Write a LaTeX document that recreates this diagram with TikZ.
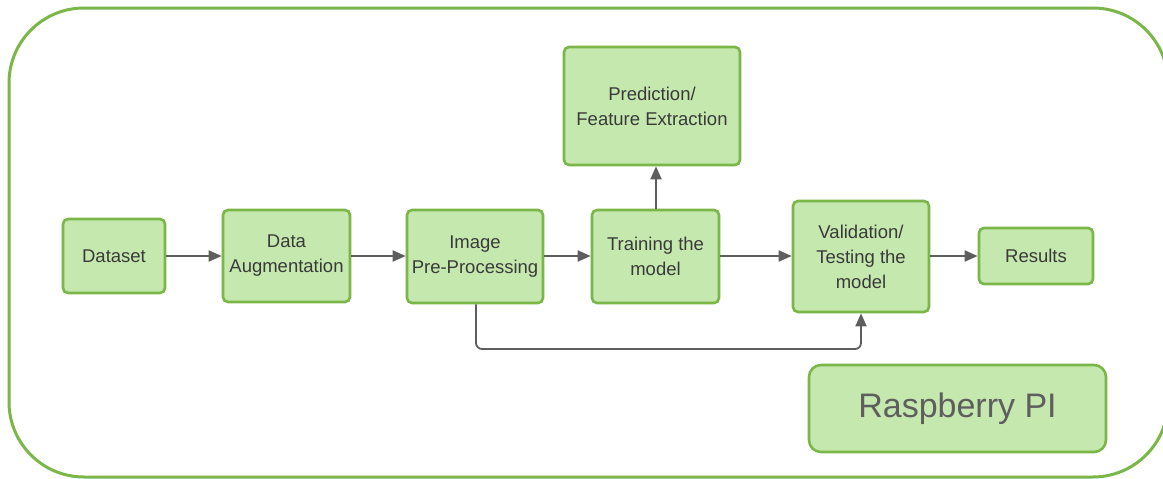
\documentclass[tikz,border=0pt]{standalone}
\usepackage{fontspec}
\setmainfont{Liberation Sans}
\usetikzlibrary{arrows.meta}
\definecolor{boxfill}{HTML}{C5E8AE}
\definecolor{boxline}{HTML}{7AB648}
\definecolor{arrowc}{HTML}{5E5E5E}
\definecolor{txt}{HTML}{3A3A3A}
\tikzset{
  stepbox/.style={draw=boxline, fill=boxfill, line width=2.6pt, rounded corners=5pt,
    align=center, text=txt, font=\fontsize{18.5}{25}\selectfont, inner sep=0pt},
  flow/.style={draw=arrowc, line width=1.8pt, -{Triangle[length=13pt,width=11pt]}}
}
\begin{document}
\begin{tikzpicture}[x=1pt,y=-1pt]
\useasboundingbox (0,0) rectangle (1163,479);
\draw[boxline, line width=3pt, rounded corners=75pt] (9,8) rectangle (1168,477);
\node[stepbox, minimum width=102pt, minimum height=74pt] (ds) at (114,256) {Dataset};
\node[stepbox, minimum width=127pt, minimum height=92pt] (aug) at (286.5,256) {Data\\Augmentation};
\node[stepbox, minimum width=136pt, minimum height=93pt] (pre) at (475,256.5) {Image\\Pre-Processing};
\node[stepbox, minimum width=127pt, minimum height=93pt] (train) at (655.5,256.5) {Training the\\model};
\node[stepbox, minimum width=176pt, minimum height=118pt] (pred) at (652,106) {Prediction/\\Feature Extraction};
\node[stepbox, minimum width=136pt, minimum height=111pt] (val) at (861,256.5) {Validation/\\Testing the\\model};
\node[stepbox, minimum width=114pt, minimum height=56pt] (res) at (1036,256) {Results};
\node[stepbox, minimum width=297pt, minimum height=87pt, rounded corners=12pt, text=arrowc,
      font=\fontsize{34}{40}\selectfont] (rpi) at (957.5,408.5) {Raspberry PI};
\coordinate (ay) at (0,256);
\coordinate (ax) at (656,0);
\draw[flow] (ds.east |- ay) -- (aug.west |- ay);
\draw[flow] (aug.east |- ay) -- (pre.west |- ay);
\draw[flow] (pre.east |- ay) -- (train.west |- ay);
\draw[flow] (train.east |- ay) -- (val.west |- ay);
\draw[flow] (val.east |- ay) -- (res.west |- ay);
\draw[flow] (train.north -| ax) -- (pred.south -| ax);
\coordinate (c1) at (476,349);
\draw[flow, rounded corners=6pt] (pre.south -| c1) -- (c1) -- (861,349) -- (val.south);
\end{tikzpicture}
\end{document}
